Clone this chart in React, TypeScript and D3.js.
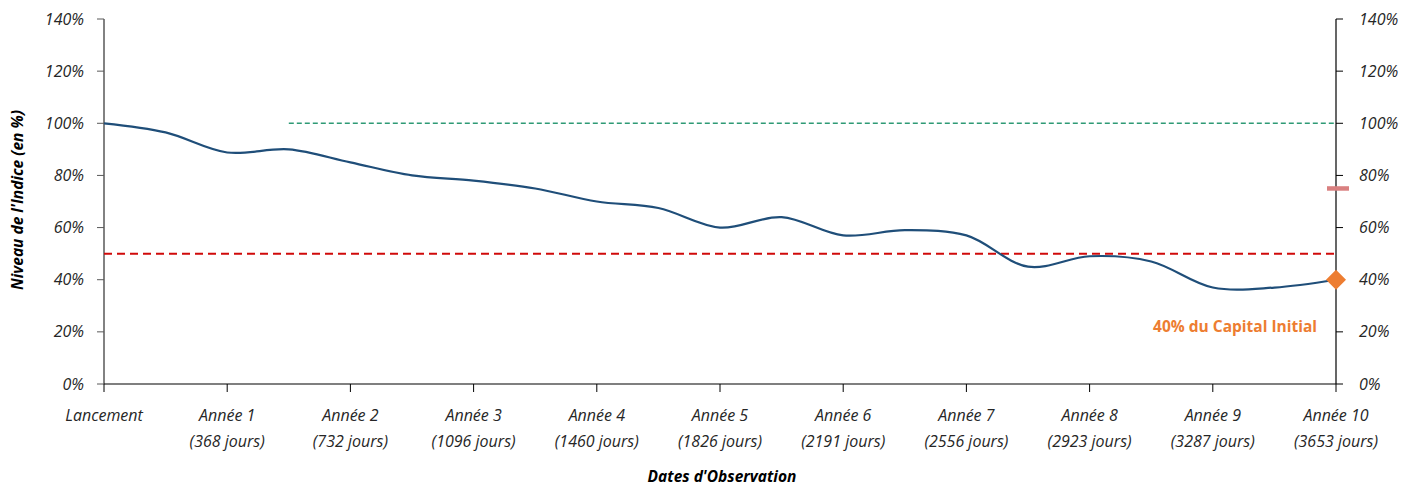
import React from "react";
import * as d3 from "d3";

const W = 1403;
const H = 486;

const tickYears = [0, 1, 2, 3, 4, 5, 6, 7, 8, 9, 10];
const tickLine1 = ["Lancement", "Année 1", "Année 2", "Année 3", "Année 4", "Année 5", "Année 6", "Année 7", "Année 8", "Année 9", "Année 10"];
const tickLine2 = ["", "(368 jours)", "(732 jours)", "(1096 jours)", "(1460 jours)", "(1826 jours)", "(2191 jours)", "(2556 jours)", "(2923 jours)", "(3287 jours)", "(3653 jours)"];
const yTicks = [0, 20, 40, 60, 80, 100, 120, 140];

const seriesT = [0, 0.5, 1, 1.5, 2, 2.5, 3, 3.5, 4, 4.5, 5, 5.5, 6, 6.5, 7, 7.5, 8, 8.5, 9, 9.5, 10];
const seriesV = [100, 96.5, 88.8, 90, 85, 80, 78, 75, 70, 67.5, 60, 64, 57, 59, 57, 45, 49, 47, 37, 37, 40];

const couponStart = 1.5;
const couponLevel = 100;
const barrierLevel = 50;
const autocallMarkLevel = 75;
const finalLevel = 40;

export default function App() {
  const left = 104;
  const right = 1336;
  const top = 19;
  const bottom = 384;
  const x = d3.scaleLinear().domain([0, 10]).range([left, right]);
  const y = d3.scaleLinear().domain([0, 140]).range([bottom, top]);

  const pts: [number, number][] = seriesT.map((t, i) => [t, seriesV[i]]);
  const line = d3
    .line<[number, number]>()
    .x((d) => x(d[0]))
    .y((d) => y(d[1]))
    .curve(d3.curveCatmullRom.alpha(0.5));

  const font = "'Open Sans', 'Noto Sans', sans-serif";
  const dx = x(10);
  const dy = y(finalLevel);
  const ds = 10;

  return (
    <svg width={W} height={H} style={{ position: "absolute", left: 0, top: 0 }} fontFamily={font}>
      <rect width={W} height={H} fill="#fff" />
      {/* left axis */}
      <line x1={left} x2={left} y1={top} y2={bottom} stroke="#595959" strokeWidth={1.5} />
      {yTicks.map((v) => (
        <g key={"l" + v}>
          <line x1={left - 7} x2={left} y1={y(v)} y2={y(v)} stroke="#595959" strokeWidth={1} />
          <text x={84} y={y(v)} dy="0.35em" textAnchor="end" fontSize={16} fontStyle="italic" fill="#262626">
            {v + "%"}
          </text>
        </g>
      ))}
      {/* right axis */}
      <line x1={right} x2={right} y1={top} y2={bottom} stroke="#000" strokeWidth={1.2} />
      {yTicks.map((v) => (
        <g key={"r" + v}>
          <line x1={right} x2={right + 7} y1={y(v)} y2={y(v)} stroke="#000" strokeWidth={1} />
          <text x={1359} y={y(v)} dy="0.35em" textAnchor="start" fontSize={16} fontStyle="italic" fill="#262626">
            {v + "%"}
          </text>
        </g>
      ))}
      {/* bottom axis */}
      <line x1={left} x2={right} y1={bottom} y2={bottom} stroke="#000" strokeWidth={1.2} />
      {tickYears.map((t, i) => (
        <g key={"x" + t}>
          <line x1={x(t)} x2={x(t)} y1={bottom} y2={bottom + 8} stroke="#000" strokeWidth={1} />
          <text x={x(t)} y={421} textAnchor="middle" fontSize={16} fontStyle="italic" fill="#262626">
            {tickLine1[i]}
          </text>
          <text x={x(t)} y={447} textAnchor="middle" fontSize={16} fontStyle="italic" fill="#262626">
            {tickLine2[i]}
          </text>
        </g>
      ))}
      {/* coupon line */}
      <line x1={x(couponStart)} x2={x(10)} y1={y(couponLevel)} y2={y(couponLevel)} stroke="#2e9a75" strokeWidth={1.5} strokeDasharray="5,3" />
      {/* barrier */}
      <line x1={left} x2={right} y1={y(barrierLevel)} y2={y(barrierLevel)} stroke="#d00a0a" strokeWidth={2} strokeDasharray="8,5" />
      {/* index line */}
      <path d={line(pts) || ""} fill="none" stroke="#1f4e79" strokeWidth={2.2} />
      {/* marker 75% */}
      <line x1={right - 9} x2={right + 13} y1={y(autocallMarkLevel)} y2={y(autocallMarkLevel)} stroke="#d98080" strokeWidth={4.5} />
      {/* diamond */}
      <path d={`M${dx},${dy - ds} L${dx + ds},${dy} L${dx},${dy + ds} L${dx - ds},${dy} Z`} fill="#ed7d31" />
      <text x={1317} y={327} dy="0.35em" textAnchor="end" fontSize={15.5} fontWeight="bold" fill="#ed7d31">
        40% du Capital Initial
      </text>
      {/* axis titles */}
      <text x={722} y={477} dy="0.35em" textAnchor="middle" fontSize={15.5} fontWeight="bold" fontStyle="italic" fill="#000">
        Dates d'Observation
      </text>
      <text transform={`translate(18,200) rotate(-90)`} dy="0.35em" textAnchor="middle" fontSize={15.5} fontWeight="bold" fontStyle="italic" fill="#000">
        Niveau de l'Indice (en %)
      </text>
    </svg>
  );
}
